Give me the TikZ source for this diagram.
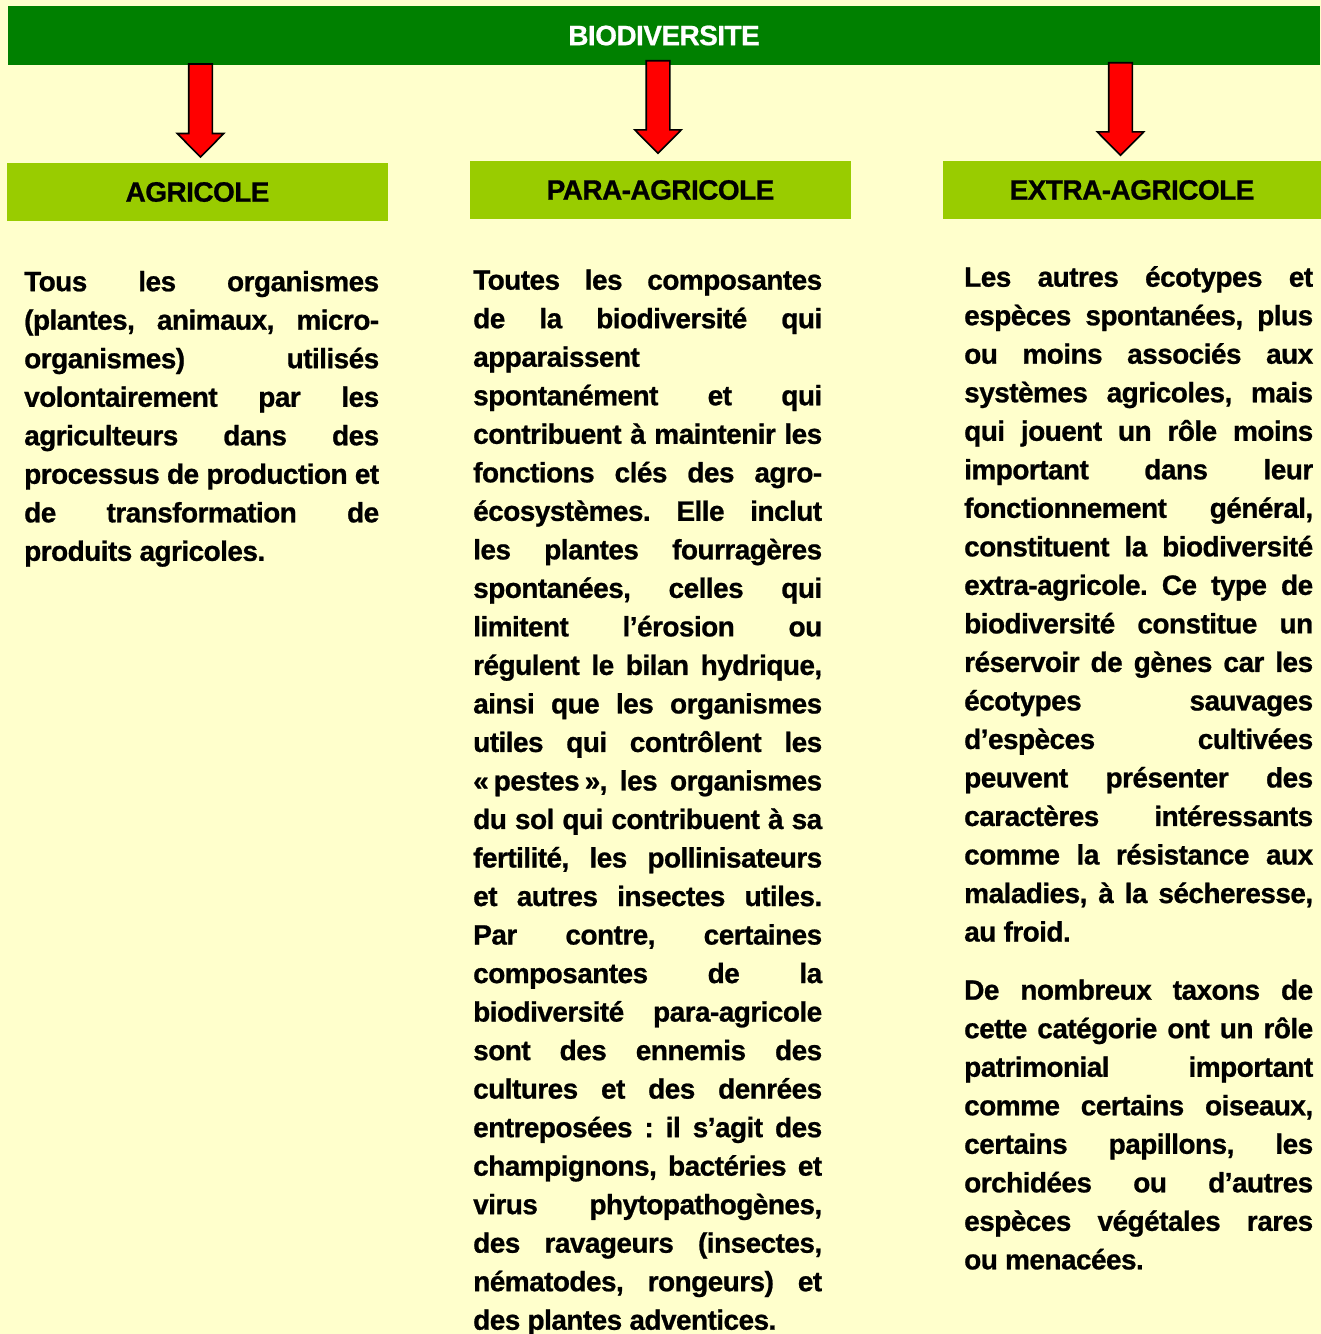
\documentclass[tikz,border=0pt]{standalone}
\usepackage{fontspec}
\setmainfont{Liberation Sans}[LetterSpace=-2, BoldFeatures={FakeBold=0.8}]
\definecolor{bgyel}{HTML}{FFFFCC}
\definecolor{darkg}{HTML}{008000}
\definecolor{lightg}{HTML}{99CC00}
\definecolor{arrred}{HTML}{FF0000}
\newlength{\colw}
\newcommand\bodyset{\bfseries\fontsize{28pt}{38.52pt}\selectfont\parindent=0pt\parskip=0pt\frenchspacing}
\newcommand\jusline[1]{\makebox[\colw][s]{#1}\par}
\newcommand\lefline[1]{\makebox[\colw][l]{#1}\par}
\newcommand\redarrow[3]{%
  \filldraw[arrowsty] (#1-11.8,#2) -- (#1+11.8,#2) -- (#1+11.8,#3-23.5) -- (#1+23.3,#3-23.5)
    -- (#1,#3) -- (#1-23.3,#3-23.5) -- (#1-11.8,#3-23.5) -- cycle;}
\tikzset{
  arrowsty/.style={fill=arrred, draw=black, line width=1.6pt, line join=miter},
  hdr/.style={fill=lightg, inner sep=0pt, minimum height=58pt, font=\bfseries\fontsize{28pt}{34pt}\selectfont, text=black},
  bodytext/.style={anchor=north west, inner sep=0pt}
}
\begin{document}
\begin{tikzpicture}[x=1pt,y=-1pt]
\fill[bgyel] (0,0) rectangle (1321,1334);
\useasboundingbox (0,0) rectangle (1321,1334);

\node[fill=darkg, inner sep=0pt, minimum width=1312pt, minimum height=59pt,
      font=\bfseries\fontsize{28pt}{34pt}\selectfont, text=white] (bio) at (664,35.5) {BIODIVERSITE};

\node[hdr, minimum width=381pt] (agr) at (197.5,192) {AGRICOLE};
\node[hdr, minimum width=381pt] (para) at (660.5,190) {PARA-AGRICOLE};
\node[hdr, minimum width=378pt] (extra) at (1132,190) {EXTRA-AGRICOLE};

\redarrow{200.5}{64}{157}
\redarrow{658}{60.7}{153.3}
\redarrow{1120.5}{62.7}{155.3}

\node[bodytext] (agtxt) at (24,291-24) {\setlength{\colw}{355pt}\begin{minipage}[t]{\colw}\bodyset
\jusline{\rule{0pt}{24pt}Tous les organismes}
\jusline{(plantes, animaux, micro-}
\jusline{organismes) utilisés}
\jusline{volontairement par les}
\jusline{agriculteurs dans des}
\jusline{processus de production et}
\jusline{de transformation de}
\lefline{produits agricoles.}
\end{minipage}};

\node[bodytext] (paratxt) at (473,289.5-24) {\setlength{\colw}{349pt}\begin{minipage}[t]{\colw}\bodyset
\jusline{\rule{0pt}{24pt}Toutes les composantes}
\jusline{de la biodiversité qui}
\lefline{apparaissent}
\jusline{spontanément et qui}
\jusline{contribuent à maintenir les}
\jusline{fonctions clés des agro-}
\jusline{écosystèmes. Elle inclut}
\jusline{les plantes fourragères}
\jusline{spontanées, celles qui}
\jusline{limitent l’érosion ou}
\jusline{régulent le bilan hydrique,}
\jusline{ainsi que les organismes}
\jusline{utiles qui contrôlent les}
\jusline{«\hspace{5pt}pestes\hspace{5pt}», les organismes}
\jusline{du sol qui contribuent à sa}
\jusline{fertilité, les pollinisateurs}
\jusline{et autres insectes utiles.}
\jusline{Par contre, certaines}
\jusline{composantes de la}
\jusline{biodiversité para-agricole}
\jusline{sont des ennemis des}
\jusline{cultures et des denrées}
\jusline{entreposées : il s’agit des}
\jusline{champignons, bactéries et}
\jusline{virus phytopathogènes,}
\jusline{des ravageurs (insectes,}
\jusline{nématodes, rongeurs) et}
\lefline{des plantes adventices.}
\end{minipage}};

\node[bodytext] (extratxt) at (964,286.5-24) {\setlength{\colw}{349pt}\begin{minipage}[t]{\colw}\bodyset
\jusline{\rule{0pt}{24pt}Les autres écotypes et}
\jusline{espèces spontanées, plus}
\jusline{ou moins associés aux}
\jusline{systèmes agricoles, mais}
\jusline{qui jouent un rôle moins}
\jusline{important dans leur}
\jusline{fonctionnement général,}
\jusline{constituent la biodiversité}
\jusline{extra-agricole. Ce type de}
\jusline{biodiversité constitue un}
\jusline{réservoir de gènes car les}
\jusline{écotypes sauvages}
\jusline{d’espèces cultivées}
\jusline{peuvent présenter des}
\jusline{caractères intéressants}
\jusline{comme la résistance aux}
\jusline{maladies, à la sécheresse,}
\lefline{au froid.}
\end{minipage}};

\node[bodytext] (extratxtb) at (964,999.5-24) {\setlength{\colw}{349pt}\begin{minipage}[t]{\colw}\bodyset
\jusline{\rule{0pt}{24pt}De nombreux taxons de}
\jusline{cette catégorie ont un rôle}
\jusline{patrimonial important}
\jusline{comme certains oiseaux,}
\jusline{certains papillons, les}
\jusline{orchidées ou d’autres}
\jusline{espèces végétales rares}
\lefline{ou menacées.}
\end{minipage}};
\end{tikzpicture}
\end{document}
